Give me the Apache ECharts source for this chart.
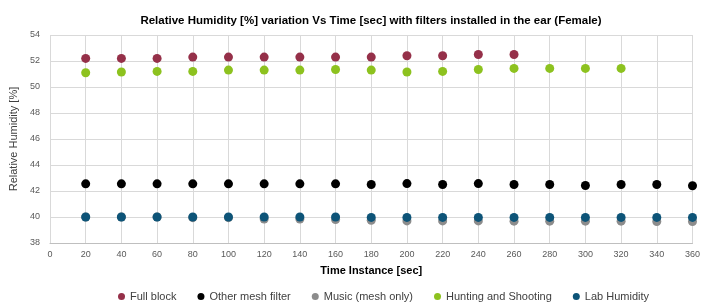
<!DOCTYPE html>
<html><head><meta charset="utf-8">
<script src="https://cdn.jsdelivr.net/npm/echarts@6/dist/echarts.min.js"></script>
<style>html,body{margin:0;padding:0;background:#fff}#c{width:703px;height:304px}</style>
</head><body><div id="c"></div>
<script>
const times = [20,40,60,80,100,120,140,160,180,200,220,240,260,280,300,320,340,360];
const fullBlock = [52.2,52.2,52.2,52.3,52.3,52.3,52.3,52.3,52.3,52.4,52.4,52.5,52.5];
const otherMesh = [42.55,42.55,42.55,42.55,42.55,42.55,42.55,42.55,42.5,42.57,42.5,42.57,42.5,42.5,42.42,42.5,42.5,42.4];
const music = [40.0,40.0,40.0,39.95,39.95,39.85,39.85,39.8,39.75,39.7,39.7,39.7,39.68,39.68,39.68,39.68,39.65,39.65];
const hunting = [51.1,51.15,51.2,51.2,51.3,51.3,51.3,51.35,51.3,51.15,51.2,51.35,51.43,51.43,51.43,51.43];
const lab = [40.0,40.0,40.0,40.0,40.0,40.0,40.0,40.0,39.97,39.97,39.97,39.97,39.97,39.97,39.97,39.97,39.97,39.97];

function pts(arr){ return arr.map((v,i)=>[times[i], v]); }
const font = 'Liberation Sans, Arial, sans-serif';
const chart = echarts.init(document.getElementById('c'), null, {renderer:'canvas'});
const mk = (name, data, color) => ({name, type:'scatter', data:pts(data), symbolSize:9, itemStyle:{color, opacity:1}});
chart.setOption({
  animation:false,
  title:{text:'Relative Humidity [%] variation Vs Time [sec] with filters installed in the ear (Female)',
    left:366, top:10, textAlign:'center',
    textStyle:{fontFamily:font, fontSize:11.5, fontWeight:'bold', color:'#000'}},
  grid:{left:50, right:9, top:35, bottom:61, containLabel:false},
  legend:{top:291, left:118, itemWidth:7, itemHeight:7, itemGap:21, icon:'circle', padding:0,
    textStyle:{fontFamily:font, fontSize:11, color:'#404040'},
    data:['Full block','Other mesh filter','Music (mesh only)','Hunting and Shooting','Lab Humidity']},
  xAxis:{type:'value', min:0, max:360, interval:20,
    name:'Time Instance [sec]', nameLocation:'middle', nameGap:22,
    nameTextStyle:{fontFamily:font, fontSize:11, fontWeight:'bold', color:'#000'},
    axisLine:{show:true, lineStyle:{color:'#BFBFBF'}}, axisTick:{show:false},
    axisLabel:{fontFamily:font, fontSize:9, color:'#595959', margin:7},
    splitLine:{show:true, lineStyle:{color:'#D9D9D9'}}},
  yAxis:{type:'value', min:38, max:54, interval:2,
    name:'Relative Humidity [%]', nameLocation:'middle', nameGap:25,
    nameTextStyle:{fontFamily:font, fontSize:11, color:'#404040'},
    axisLine:{show:false}, axisTick:{show:false},
    axisLabel:{fontFamily:font, fontSize:9, color:'#595959', margin:10},
    splitLine:{show:true, lineStyle:{color:'#D9D9D9'}}},
  series:[
    mk('Full block', fullBlock, '#953049'),
    mk('Other mesh filter', otherMesh, '#000000'),
    mk('Music (mesh only)', music, '#8C8C8C'),
    mk('Hunting and Shooting', hunting, '#8DC21F'),
    mk('Lab Humidity', lab, '#0D5478')
  ]
});
</script></body></html>
